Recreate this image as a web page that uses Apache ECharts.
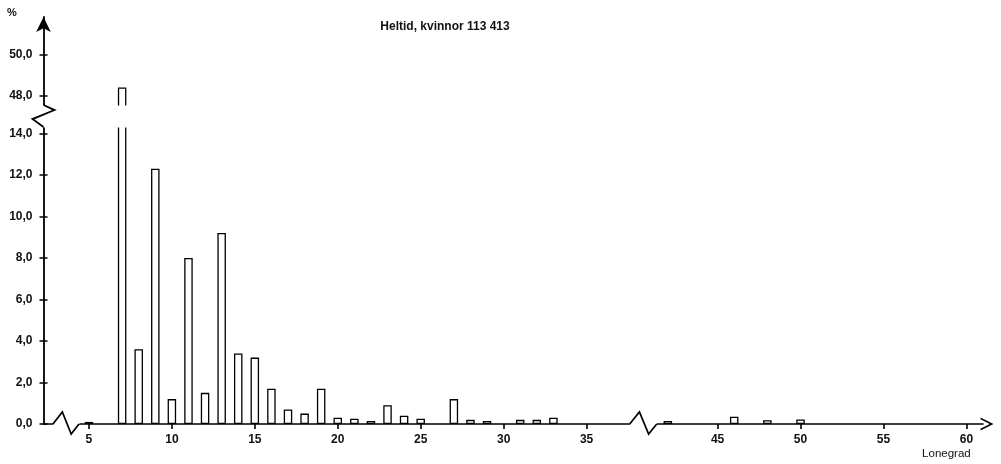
<!DOCTYPE html>
<html><head><meta charset="utf-8">
<script src="https://cdn.jsdelivr.net/npm/echarts@6/dist/echarts.min.js"></script>
<style>html,body{margin:0;padding:0;background:#fff}#c{width:1001px;height:464px}</style>
</head><body><div id="c"></div>
<script>
// Data
const wageGrades = [5, 7, 8, 9, 10, 11, 12, 13, 14, 15, 16, 17, 18, 19, 20, 21, 22, 23, 24, 25, 27, 28, 29, 31, 32, 33, 42, 46, 48, 50];
const sharePct   = [0.1, 48.4, 3.6, 12.3, 1.2, 8.0, 1.5, 9.2, 3.4, 3.2, 1.7, 0.7, 0.5, 1.7, 0.3, 0.25, 0.15, 0.9, 0.4, 0.25, 1.2, 0.2, 0.15, 0.2, 0.2, 0.3, 0.15, 0.35, 0.18, 0.22];
const yTickValues = [0, 2, 4, 6, 8, 10, 12, 14, 48, 50];
const xTickValues = [5, 10, 15, 20, 25, 30, 35, 45, 50, 55, 60];
const titleText = 'Heltid, kvinnor 113 413';
const yUnit = '%';
const xName = 'Lonegrad';
// axis breaks (value ranges omitted)
const xBreaks = [{start: 0.57, end: 4.4, gap: 1.57}, {start: 37.6, end: 41.33, gap: 1.63}];
const yBreaks = [{start: 14.31, end: 47.56, gap: 1.06}];

const font = '"Liberation Sans", Arial, Helvetica, sans-serif';
const ink = '#000';
const chart = echarts.init(document.getElementById('c'), null, {renderer: 'canvas'});
const breakAreaStyle = {show: true, expandOnClick: false, zigzagAmplitude: 0, itemStyle: {color: '#fff', borderWidth: 0, opacity: 1}};
const yLabelFmt = v => v.toFixed(1).replace('.', ',');
const option = {
  animation: false,
  backgroundColor: '#fff',
  grid: {left: 43.5, right: 18, top: 17, bottom: 40, containLabel: false},
  xAxis: {
    type: 'value', min: 0, max: 61,
    breaks: xBreaks,
    breakArea: breakAreaStyle,
    axisLine: {show: true, lineStyle: {color: ink, width: 1.6}, symbol: ['none', 'path://M0,14 L7,0 L14,14 L12,14 L7,4 L2,14 Z'], symbolSize: [13, 14], symbolOffset: [0, 4]},
    axisTick: {show: true, length: 5, customValues: xTickValues, lineStyle: {color: ink, width: 1.6}},
    axisLabel: {customValues: xTickValues, margin: 10, fontSize: 12, fontWeight: 'bold', color: '#111', fontFamily: font},
    splitLine: {show: false}
  },
  yAxis: [{
    type: 'value', min: 0, max: 51.8,
    breaks: yBreaks,
    breakArea: breakAreaStyle,
    axisLine: {show: true, lineStyle: {color: ink, width: 1.8}, symbol: ['none', 'arrow'], symbolSize: [11, 15]},
    axisTick: {show: true, length: 4, customValues: yTickValues, lineStyle: {color: ink, width: 1.5}},
    axisLabel: {customValues: yTickValues, margin: 11, fontSize: 12, fontWeight: 'bold', color: '#111', fontFamily: font, formatter: yLabelFmt},
    splitLine: {show: false}
  }, {
    type: 'value', min: 0, max: 51.8, position: 'left', offset: 0,
    breaks: yBreaks,
    breakArea: {show: false},
    axisLine: {show: false},
    axisTick: {show: true, inside: true, length: 4, customValues: yTickValues, lineStyle: {color: ink, width: 1.5}},
    axisLabel: {show: false},
    splitLine: {show: false}
  }],
  series: [{
    type: 'bar',
    data: wageGrades.map((g, i) => [g, sharePct[i]]),
    barWidth: 8.5,
    itemStyle: {color: '#fff', borderColor: ink, borderWidth: 1.3}
  }]
};
chart.setOption(option);

function px(axis, v) {
  return axis === 'x' ? chart.convertToPixel({xAxisIndex: 0}, v) : chart.convertToPixel({yAxisIndex: 0}, v);
}
const y0 = px('y', 0);
const x0 = px('x', 0);
const graphics = [];
function xZig(a, b) {
  const p1 = px('x', a), p2 = px('x', b), w = p2 - p1;
  graphics.push({type: 'rect', z: 100, shape: {x: p1 + 0.5, y: y0 - 3, width: w - 1, height: 6}, style: {fill: '#fff'}});
  graphics.push({type: 'polyline', z: 101, shape: {points: [[p1, y0], [p1 + w * 0.36, y0 - 12], [p1 + w * 0.7, y0 + 10], [p2, y0]]},
    style: {stroke: ink, lineWidth: 1.7, fill: null}});
}
function yZig(a, b) {
  const p1 = px('y', a), p2 = px('y', b), h = p1 - p2;
  graphics.push({type: 'rect', z: 100, shape: {x: x0 - 3, y: p2 + 0.5, width: 6, height: h - 1}, style: {fill: '#fff'}});
  graphics.push({type: 'polyline', z: 101, shape: {points: [[x0, p1], [x0 - 11, p1 - h * 0.36], [x0 + 11, p1 - h * 0.77], [x0, p2]]},
    style: {stroke: ink, lineWidth: 1.8, fill: null}});
}
xBreaks.forEach(b => xZig(b.start, b.end));
yBreaks.forEach(b => yZig(b.start, b.end));
graphics.push({type: 'text', z: 102, x: 445, y: 27, style: {text: titleText, fontSize: 12, fontWeight: 'bold', fontFamily: font, fill: '#111', align: 'center', verticalAlign: 'middle'}});
graphics.push({type: 'text', z: 102, x: 12, y: 13, style: {text: yUnit, fontSize: 11, fontWeight: 'bold', fontFamily: font, fill: '#111', align: 'center', verticalAlign: 'middle'}});
graphics.push({type: 'text', z: 102, x: px('x', 60) - 20, y: 454, style: {text: xName, fontSize: 11.5, fontFamily: font, fill: '#111', align: 'center', verticalAlign: 'middle'}});
chart.setOption({graphic: graphics});
</script>
</body></html>
